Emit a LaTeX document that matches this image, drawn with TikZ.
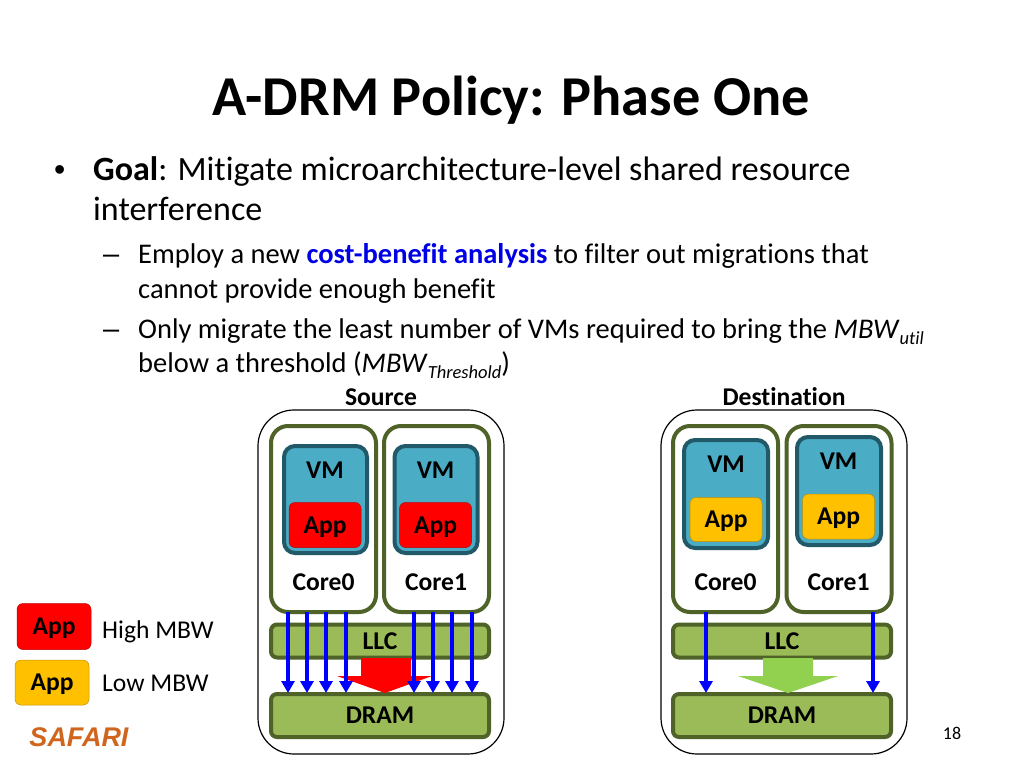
\documentclass[tikz,border=0pt]{standalone}
\usepackage{fontspec}
\usepackage{xcolor}
\setmainfont[Ligatures=NoCommon]{Carlito}
\newfontfamily\markfont{Liberation Sans}
\usetikzlibrary{positioning,shapes.geometric,arrows.meta}
\definecolor{vmfill}{HTML}{4BACC6}
\definecolor{vmline}{HTML}{215968}
\definecolor{boxline}{HTML}{4F6228}
\definecolor{memfill}{HTML}{9BBB59}
\definecolor{lowapp}{HTML}{FFC000}
\definecolor{lowflow}{HTML}{92D050}
\definecolor{safari}{HTML}{D0651E}
\definecolor{keyblue}{HTML}{0000E6}
\newcommand{\lowsub}[1]{\raisebox{-6pt}{\fontsize{18.5}{18.5}\selectfont\textit{#1}}}
\tikzset{
    outerbox/.style={draw=black,line width=1.2pt,rounded corners=36pt,fill=white},
    corebox/.style={draw=boxline,line width=4pt,rounded corners=17pt,fill=white},
    boldlabel/.style={font=\fontsize{25.6}{25.6}\selectfont\bfseries,text height=16pt,text depth=0pt},
    membox/.style={boldlabel,draw=boxline,line width=4pt,rounded corners=6pt,fill=memfill},
    vmbox/.style={draw=vmline,line width=4pt,rounded corners=11pt,fill=vmfill},
    highapp/.style={boldlabel,draw=red!75!black,line width=0.5pt,rounded corners=6pt,fill=red},
    lowappbox/.style={boldlabel,draw=lowapp!75!black,line width=0.5pt,rounded corners=6pt,fill=lowapp},
    plainlabel/.style={font=\fontsize{25.6}{25.6}\selectfont},
    goalline/.style={anchor=base west,inner sep=0pt,font=\fontsize{34}{34}\selectfont},
    subline/.style={anchor=base west,inner sep=0pt,font=\fontsize{28.5}{28.5}\selectfont},
    memarrow/.style={draw=blue,line width=3.8pt,-{Triangle[length=12pt,width=13pt]}},
}
\begin{document}
\begin{tikzpicture}[x=1pt,y=-1pt]
    \useasboundingbox (0,0) rectangle (1024,768);
    \node[font=\fontsize{56.3}{56.3}\selectfont\bfseries] (title) at (511,100) {A-DRM Policy: Phase One};
    \node[goalline,font=\fontsize{32}{32}\selectfont\markfont] (bullet) at (54,180) {•};
    \node[goalline] (goal1) at (93,180) {\textbf{Goal}: Mitigate microarchitecture-level shared resource};
    \node[goalline] (goal2) at (93,220) {interference};
    \node[subline,font=\fontsize{29}{29}\selectfont\markfont] (dash1) at (103,263) {–};
    \node[subline] (sub1) at (138,263) {Employ a new \textcolor{keyblue}{\textbf{cost-benefit analysis}} to filter out migrations that};
    \node[subline] (sub2) at (138,298) {cannot provide enough benefit};
    \node[subline,font=\fontsize{29}{29}\selectfont\markfont] (dash2) at (103,338) {–};
    \node[subline] (sub3) at (138,338) {Only migrate the least number of VMs required to bring the \textit{MBW}\lowsub{util}};
    \node[subline] (sub4) at (138,372) {below a threshold (\textit{MBW}\lowsub{Threshold})};
    \node[boldlabel] (srclabel) at (381,397) {Source};
    \node[boldlabel] (dstlabel) at (784,397) {Destination};

    \node[outerbox,minimum width=246pt,minimum height=344pt] (srcouter) at (381,582) {};
    \node[corebox,minimum width=105pt,minimum height=186pt] (srccore0) at (323.5,519) {};
    \node[corebox,minimum width=105pt,minimum height=186pt] (srccore1) at (436.5,519) {};
    \node[vmbox,minimum width=83pt,minimum height=107pt] (srcvm0) at (325.5,499.5) {};
    \node[vmbox,minimum width=83pt,minimum height=107pt] (srcvm1) at (436,499.5) {};
    \node[highapp,minimum width=72pt,minimum height=45pt] (srcapp0) at (325,525) {App};
    \node[highapp,minimum width=72pt,minimum height=45pt] (srcapp1) at (435.5,525) {App};
    \node[boldlabel] at (325,470) (srcvmtext0) {VM};
    \node[boldlabel] at (435.5,470) (srcvmtext1) {VM};
    \node[boldlabel] at (323.5,582) (srccoretext0) {Core0};
    \node[boldlabel] at (436,582) (srccoretext1) {Core1};
    \node[membox,minimum width=218pt,minimum height=33pt] (srcllc) at (380,641) {LLC};
    \node[membox,minimum width=218pt,minimum height=43pt] (srcdram) at (380,715.5) {DRAM};
    \fill[red] (361,658) -- (411,658) -- (411,676) -- (432,676) -- (385,693) -- (337,676) -- (361,676) -- cycle;
    \foreach \x [count=\i] in {288,307,326,346,414,433,452,472} {
        \coordinate (srctop\i) at (\x,612);
        \coordinate (srcbot\i) at (\x,693);
        \draw[memarrow] (srctop\i) -- (srcbot\i);
    }

    \node[outerbox,minimum width=246pt,minimum height=344pt] (dstouter) at (784,582) {};
    \node[corebox,minimum width=105pt,minimum height=186pt] (dstcore0) at (725.5,519) {};
    \node[corebox,minimum width=105pt,minimum height=186pt] (dstcore1) at (839,519) {};
    \node[vmbox,minimum width=84pt,minimum height=108pt] (dstvm0) at (726,494) {};
    \node[vmbox,minimum width=84pt,minimum height=108pt] (dstvm1) at (839,491) {};
    \node[lowappbox,minimum width=72pt,minimum height=44pt] (dstapp0) at (726,519.5) {App};
    \node[lowappbox,minimum width=72pt,minimum height=45pt] (dstapp1) at (838.5,516.5) {App};
    \node[boldlabel] at (726,464) (dstvmtext0) {VM};
    \node[boldlabel] at (838.5,461) (dstvmtext1) {VM};
    \node[boldlabel] at (725.5,582) (dstcoretext0) {Core0};
    \node[boldlabel] at (838.5,582) (dstcoretext1) {Core1};
    \node[membox,minimum width=218pt,minimum height=33pt] (dstllc) at (782,641) {LLC};
    \node[membox,minimum width=218pt,minimum height=43pt] (dstdram) at (782,715.5) {DRAM};
    \fill[lowflow] (763,658) -- (813,658) -- (813,676) -- (838,676) -- (788,693) -- (738,676) -- (763,676) -- cycle;
    \foreach \x [count=\i] in {706,873} {
        \coordinate (dsttop\i) at (\x,612);
        \coordinate (dstbot\i) at (\x,693);
        \draw[memarrow] (dsttop\i) -- (dstbot\i);
    }

    \node[highapp,minimum width=74pt,minimum height=46pt] (keyhigh) at (54,626.5) {App};
    \node[lowappbox,minimum width=74pt,minimum height=45pt] (keylow) at (52,682.5) {App};
    \node[plainlabel,anchor=base west,inner sep=0pt] (hightext) at (102,638) {High MBW};
    \node[plainlabel,anchor=base west,inner sep=0pt] (lowtext) at (102,691) {Low MBW};
    \node[font=\fontsize{27}{27}\selectfont\markfont\bfseries\itshape,text=safari,inner sep=0pt] (logo) at (79,737) {SAFARI};
    \node[font=\fontsize{18}{18}\selectfont,inner sep=0pt] (pagenum) at (952,733) {18};
\end{tikzpicture}
\end{document}
